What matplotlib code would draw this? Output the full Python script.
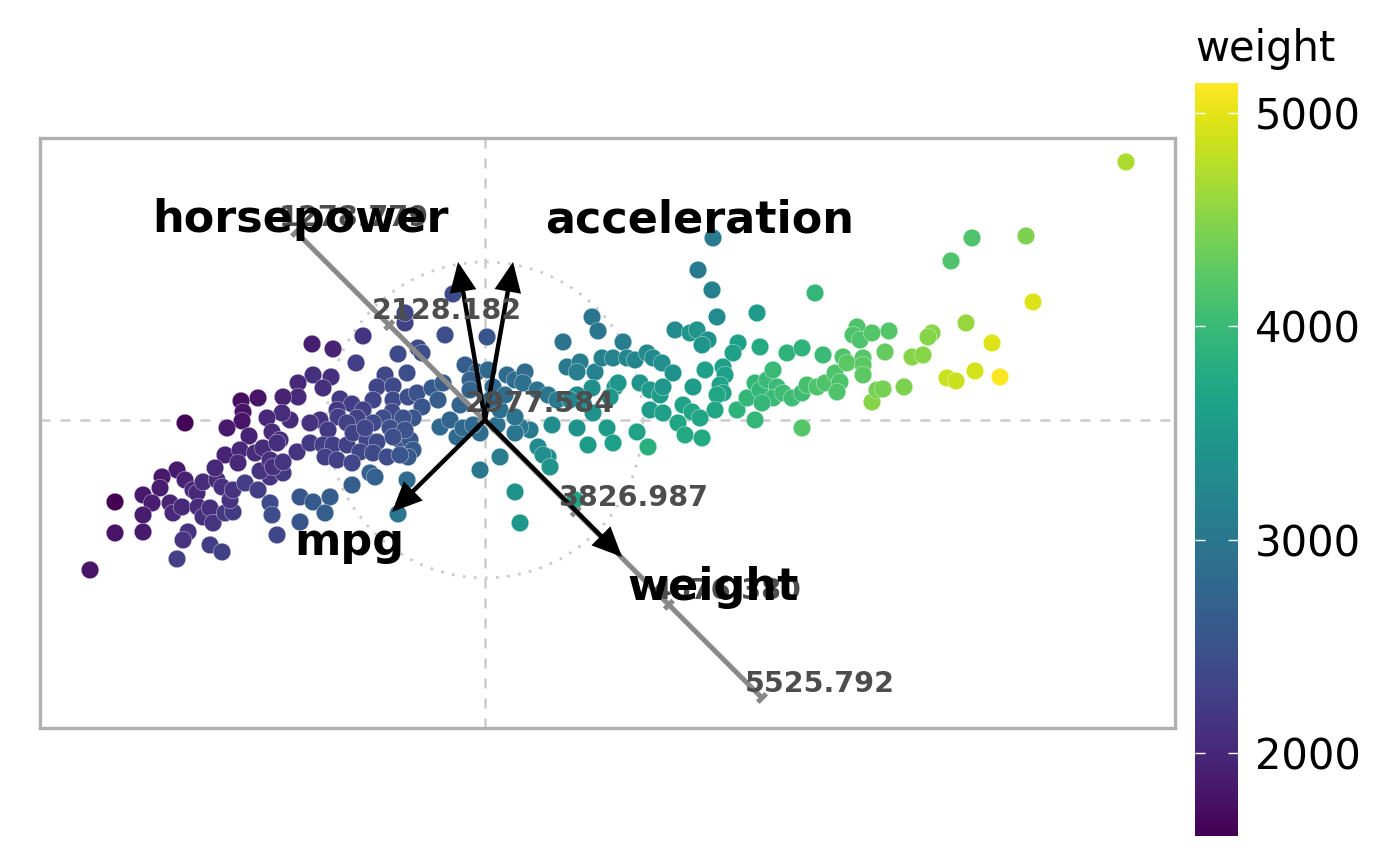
"""PCA biplot of the auto-mpg data: scores coloured by weight, loadings as arrows,
plus a calibrated axis for weight."""

import matplotlib.pyplot as plt
import numpy as np

# principal component scores
PC1 = [
    -3.00, -3.08, -3.23, -3.25, -3.00, -2.92, -2.88, -3.42, -3.33, -3.42,
    -3.70, -3.15, -3.12, -3.03, -2.87, -3.70, -3.42, -2.97, -3.02, -3.08,
    -3.95, -2.82, -2.68, -2.63, -2.82, -2.75, -2.72, -2.60, -2.52, -2.55,
    -2.52, -2.40, -2.27, -2.15, -2.13, -2.08, -1.85, -1.72, -1.55, -1.60,
    -1.85, -2.75, -2.63, -2.15, -2.02, -2.25,
    -0.80, -0.80, -1.22, -1.73, -1.52, -0.87, -0.67, -0.63, -1.29, -0.78,
    -1.00, -1.08, -0.92, -1.72, -1.54, -1.62, -1.87, -1.87, -2.02, -2.27,
    -2.44, -2.42, -2.43, -1.45, -1.33, -1.48, -1.47, -1.12, -1.22, -0.92,
    -0.93, -0.77, -0.68, -0.53, -0.47, -0.63, -0.72, -0.82, -1.02, -1.12,
    -1.28, -1.38, -1.65, -1.75, -1.57, -1.95, -2.03, -2.18, -2.13, -2.58,
    -2.36, -2.05, -1.88, -1.75, -1.62, -1.52, -1.38, -1.32, -1.18, -1.08,
    -1.25, -1.12, -0.98, -0.85, -0.75, -0.72, -1.60, -1.48, -1.33, -0.77,
    -0.45, -2.60, -2.45, -2.30, -2.22, -2.08, -2.70, -2.47, -2.15, -2.12,
    -2.02,
    -0.40, 0.02, 1.07, 1.13, 0.78, 1.38, -0.20, -0.08, 0.03, 0.22,
    0.30, 0.40, 0.38, -0.42, -0.15, -0.15, 0.08, 0.52, 0.63, 0.72,
    0.82, 0.95, 0.92, 1.10, 1.17, 1.28, 1.42, 1.50, 1.62, 1.68,
    1.77, 1.07, 1.30, 1.33, 1.25, 1.55, 1.65, 1.75, 1.78, 0.92,
    0.98, 1.08, 1.65, 1.78, 0.92, 0.67, 0.45, 0.35, 0.30, 0.12,
    -0.05, -0.35, -0.28, -0.22, 1.22, 1.03, 1.28, 1.52, 1.63, 0.53,
    0.63, 0.58, 0.65, 0.15, -0.05, 0.15, 0.30, 0.85, -0.12, -0.25,
    0.05, 0.20,
    -1.33, -1.15, -1.10, -0.78, -0.87, 0.30, 0.35, 0.90, -0.95, -1.20,
    -0.80, -0.92, -0.85, -0.32,
    2.28, 2.13, 2.27, 3.30, 2.32, 2.72, 1.90, 2.05, 2.12, 2.23,
    2.17, 2.53, 2.48, 2.75, 3.02, 3.17, 3.38, 3.72, 3.68, 3.75,
    3.87, 3.58, 3.78,
    1.88, 2.20, 2.38, 2.40, 2.35, 2.38, 2.08, 2.32, 2.30, 1.98,
    2.07, 2.15, 1.93, 2.00, 2.17, 2.52, 2.62, 2.70, 2.70, 2.75,
    2.82, 2.88, 2.92, 2.88, 2.77, 2.98, 3.07, 3.17, 3.22, 3.32,
    3.40, 3.50, 3.55, 3.52, 3.62, 3.78, 3.78, 3.17, 3.87, 3.92,
    6.41, 4.87, 5.41, 4.66, 5.48, 4.81, 4.04, 4.47, 4.43, 5.07,
    4.00, 4.27, 4.38, 3.98, 4.19, 4.62, 4.71, 4.90, 5.15,
]
PC2 = [
    -0.03, -0.50, -0.57, -0.68, -0.60, -0.70, -0.73, -0.75, -0.83, -0.95,
    -0.82, -0.83, -0.93, -0.87, -0.87, -1.13, -1.12, -1.12, -1.20, -1.39,
    -1.50, -0.62, -0.60, -0.67, -0.97, -0.88, -1.03, -0.93, -0.92, -0.80,
    -0.70, -0.63, -0.70, -0.83, -0.95, -1.15, -0.77, -0.82, -0.77, -0.93,
    -1.02, -1.25, -1.32, -0.57, -0.53, -0.51,
    0.97, 1.07, 0.84, 0.76, 0.71, 0.66, 0.72, 0.67, 0.57, 0.47,
    0.45, 0.33, 0.34, 0.45, 0.43, 0.32, 0.37, 0.23, 0.23, 0.22,
    0.19, 0.08, -0.01, 0.21, 0.16, 0.10, 0.03, 0.20, 0.10, 0.20,
    0.08, 0.23, 0.27, 0.32, 0.20, 0.13, 0.02, 0.02, 0.02, -0.03,
    0.02, -0.03, 0.00, -0.03, -0.10, 0.00, 0.07, 0.02, -0.12, -0.08,
    -0.16, -0.20, -0.32, -0.23, -0.25, -0.25, -0.25, -0.13, -0.20, -0.22,
    -0.32, -0.33, -0.37, -0.20, -0.20, -0.30, -0.37, -0.40, -0.43, -0.37,
    -0.07, -0.35, -0.30, -0.33, -0.28, -0.23, -0.48, -0.43, -0.40, -0.47,
    -0.42,
    0.85, 0.83, 1.03, 0.89, 0.78, 0.78, 0.55, 0.48, 0.50, 0.45,
    0.40, 0.48, 0.37, 0.37, 0.40, 0.30, 0.33, 0.30, 0.25, 0.20,
    0.53, 0.58, 0.48, 0.48, 0.62, 0.62, 0.62, 0.60, 0.67, 0.62,
    0.57, 0.32, 0.33, 0.37, 0.23, 0.37, 0.30, 0.25, 0.33, 0.25,
    0.17, 0.07, 0.10, 0.07, -0.08, -0.05, -0.10, -0.07, -0.13, -0.05,
    -0.13, 0.00, -0.17, -0.08, -0.08, -0.25, -0.23, -0.12, -0.27, -0.27,
    -0.37, -0.35, -0.47, -0.37, -0.50, 0.10, 0.03, 0.20, -0.05, 0.15,
    0.20, 0.25,
    -0.65, -0.53, -0.57, -0.60, -0.94, -0.72, -1.03, -0.80, -0.08, -0.08,
    -0.10, -0.17, -0.35, 1.26,
    1.82, 1.50, 1.30, 1.27, 1.03, 1.07, 0.90, 0.87, 0.90, 0.80,
    0.75, 0.77, 0.67, 0.73, 0.67, 0.72, 0.65, 0.93, 0.85, 0.80,
    0.87, 0.63, 0.62,
    0.47, 0.50, 0.53, 0.45, 0.35, 0.27, 0.33, 0.25, 0.10, 0.15,
    0.08, 0.02, -0.03, -0.15, -0.18, 0.10, 0.22, 0.00, 0.37, 0.30,
    0.40, 0.50, 0.33, 0.22, 0.17, 0.27, 0.22, 0.27, 0.35, 0.33,
    0.37, 0.47, 0.38, 0.28, 0.57, 0.55, 0.45, -0.08, 0.18, 0.30,
    2.58, 1.82, 1.84, 1.59, 1.18, 0.97, 0.89, 0.87, 0.83, 0.77,
    0.68, 0.63, 0.65, 0.31, 0.33, 0.42, 0.39, 0.49, 0.43,
]
WEIGHT = [
    1649, 1850, 1850, 1900, 1950, 2000, 2000, 1850, 1900, 1900,
    1613, 1950, 2000, 2000, 2050, 1800, 1850, 2150, 2150, 2300,
    1800, 2050, 2050, 2100, 2100, 2100, 2150, 2200, 2200, 2150,
    2150, 2250, 2250, 2400, 2450, 2350, 2550, 2600, 2650, 2650,
    2550, 2250, 2300, 2150, 2200, 2150,
    2300, 2350, 2150, 1900, 1950, 2400, 2400, 2450, 2250, 2450,
    2350, 2350, 2400, 2100, 2100, 2100, 2000, 2000, 1950, 1800,
    1750, 1800, 1800, 2200, 2250, 2200, 2250, 2350, 2300, 2400,
    2400, 2450, 2500, 2600, 2650, 2550, 2550, 2500, 2450, 2400,
    2300, 2300, 2150, 2150, 2200, 2050, 2050, 2000, 2050, 1850,
    1950, 2100, 2150, 2200, 2250, 2250, 2300, 2300, 2350, 2400,
    2350, 2400, 2450, 2500, 2550, 2600, 2250, 2300, 2350, 2600,
    2800, 1950, 2000, 2050, 2050, 2100, 2000, 2000, 2100, 2100,
    2150,
    2450, 2550, 3000, 3000, 2950, 3100, 2650, 2750, 2800, 2850,
    2850, 2850, 2900, 2650, 2700, 2750, 2800, 2950, 3000, 3050,
    3050, 3100, 3100, 3150, 3150, 3200, 3250, 3250, 3300, 3300,
    3350, 3350, 3450, 3450, 3450, 3450, 3500, 3550, 3500, 3300,
    3350, 3400, 3550, 3600, 3400, 3300, 3050, 3000, 3000, 2900,
    2850, 2750, 2800, 2800, 3550, 3550, 3600, 3650, 3850, 3300,
    3350, 3350, 3450, 3100, 3000, 2900, 2950, 3250, 2800, 2750,
    2800, 2850,
    2650, 2700, 2700, 2850, 3000, 3400, 3500, 3700, 2450, 2350,
    2500, 2450, 2550, 2400,
    3050, 3050, 3150, 3950, 3300, 3550, 3300, 3450, 3450, 3400,
    3450, 3600, 3600, 3750, 3900, 3900, 4000, 4150, 4150, 4150,
    4200, 4150, 4200,
    3400, 3600, 3600, 3600, 3650, 3650, 3550, 3700, 3700, 3650,
    3700, 3700, 3700, 3750, 3750, 3900, 3950, 3950, 3950, 3950,
    4000, 4000, 4000, 4000, 3950, 4050, 4050, 4050, 4100, 4150,
    4150, 4150, 4150, 4150, 4250, 4250, 4250, 4200, 4500, 4400,
    4700, 4150, 4450, 4150, 4950, 4600, 4200, 4500, 4500, 4950,
    4300, 4500, 4500, 4400, 4450, 4850, 4850, 4900, 5140,
]

# variable loadings (arrow tips) and where their names sit
VARIABLES = ["horsepower", "acceleration", "mpg", "weight"]
LOAD_X = [-0.27, 0.28, -0.93, 1.37]
LOAD_Y = [1.58, 1.58, -0.92, -1.37]
LABEL_X = [-1.85, 2.15, -1.36, 2.28]
LABEL_Y = [2.00, 2.00, -1.23, -1.68]

# calibrated axis for weight
WEIGHT_AXIS_START = (-1.89, 1.88)
WEIGHT_AXIS_END = (2.77, -2.78)
WEIGHT_AXIS_TICKS = [1278.779, 2128.182, 2977.584, 3826.987, 4676.380, 5525.792]

CIRCLE_RADIUS = 1.58


def main() -> None:
    fig = plt.figure(figsize=(7, 4.33), dpi=200)
    ax = fig.add_axes([0.0286, 0.1594, 0.8107, 0.6813])
    cax = fig.add_axes([0.8536, 0.0346, 0.0307, 0.8695])

    ax.axhline(0, color="#cccccc", lw=0.9, dashes=(4, 4), zorder=1)
    ax.axvline(0, color="#cccccc", lw=0.9, dashes=(4, 4), zorder=1)
    theta = np.linspace(0, 2 * np.pi, 200)
    ax.plot(CIRCLE_RADIUS * np.cos(theta), CIRCLE_RADIUS * np.sin(theta),
            color="#cccccc", lw=1.0, ls=(0, (1, 3)), zorder=1)

    sc = ax.scatter(PC1, PC2, c=WEIGHT, cmap="viridis",
                    vmin=min(WEIGHT), vmax=max(WEIGHT),
                    s=40, edgecolor="white", linewidth=0.12, zorder=2)

    # calibrated weight axis with ticks and values
    x0, y0 = WEIGHT_AXIS_START
    x1, y1 = WEIGHT_AXIS_END
    ax.plot([x0, x1], [y0, y1], color="#888888", lw=1.8, zorder=3,
            solid_capstyle="butt")
    t0, t1 = WEIGHT_AXIS_TICKS[0], WEIGHT_AXIS_TICKS[-1]
    dx, dy = x1 - x0, y1 - y0
    length = np.hypot(dx, dy)
    px, py = -dy / length * 0.06, dx / length * 0.06
    for v in WEIGHT_AXIS_TICKS:
        f = (v - t0) / (t1 - t0)
        tx, ty = x0 + f * dx, y0 + f * dy
        ax.plot([tx - px, tx + px], [ty - py, ty + py], color="#888888",
                lw=1.8, zorder=3, solid_capstyle="butt")
        ax.annotate(f"{v:.3f}", (tx, ty), xytext=(-6.3, 5),
                    textcoords="offset points", ha="left", va="center",
                    fontsize=10.3, fontweight="bold", color="#4d4d4d", zorder=5)

    for name, lx, ly, tx, ty in zip(VARIABLES, LOAD_X, LOAD_Y, LABEL_X, LABEL_Y):
        ax.annotate("", xy=(lx, ly), xytext=(0, 0),
                    arrowprops=dict(arrowstyle="-|>,head_length=0.4,head_width=0.18",
                                    color="black", lw=1.6, joinstyle="miter",
                                    mutation_scale=20, shrinkA=0, shrinkB=0),
                    zorder=4)
        ax.text(tx, ty, name, ha="center", va="center", fontsize=16,
                fontweight="bold", color="black", zorder=6)

    ax.set_xlim(-4.45, 6.90)
    ax.set_ylim(-3.08, 2.82)
    ax.set_xticks([])
    ax.set_yticks([])
    for sp in ax.spines.values():
        sp.set_color("#b0b0b0")
        sp.set_linewidth(1.2)

    cbar = fig.colorbar(sc, cax=cax)
    cbar.outline.set_visible(False)
    cbar.set_ticks([2000, 3000, 4000, 5000])
    cax.tick_params(labelsize=15, direction="in", color="white", length=3.5,
                    width=0.5, left=True, right=True, pad=6)
    cax.set_title("weight", loc="left", fontsize=15, pad=8)

    fig.savefig("out.png", dpi=200)
    plt.close(fig)


if __name__ == "__main__":
    main()
